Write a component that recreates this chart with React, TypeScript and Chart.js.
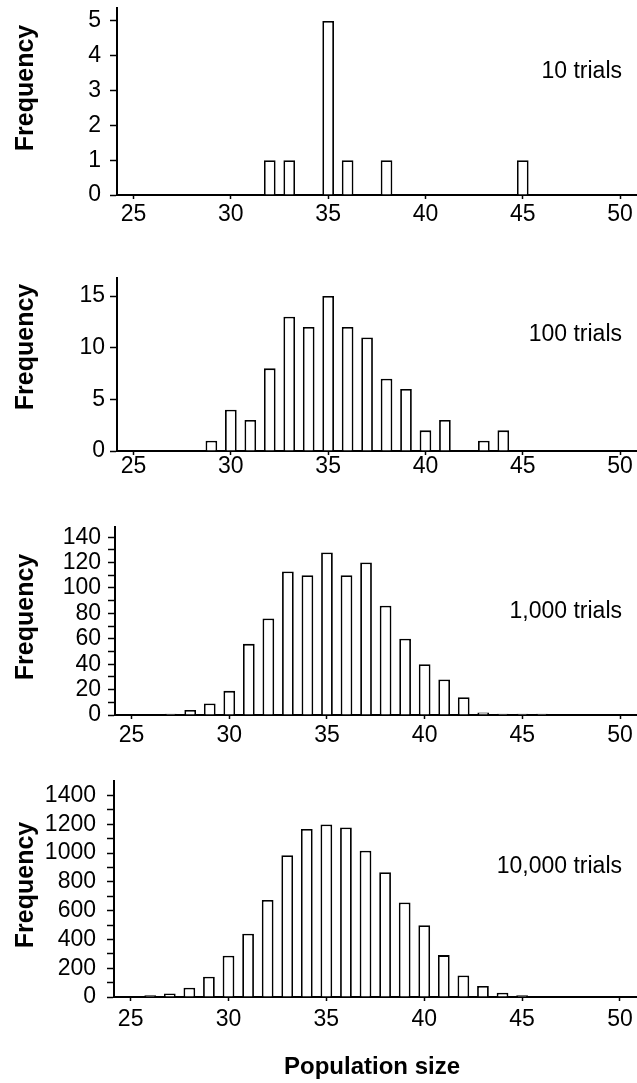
import React, { useEffect, useRef } from 'react';
import { Chart, registerables } from 'chart.js';

Chart.register(...registerables);

// ---- data ----
const sizes10 = [32, 33, 35, 36, 38, 45];
const freq10 = [1, 1, 5, 1, 1, 1];

const sizes100 = [29, 30, 31, 32, 33, 34, 35, 36, 37, 38, 39, 40, 41, 43, 44];
const freq100 = [1, 4, 3, 8, 13, 12, 15, 12, 11, 7, 6, 2, 3, 1, 2];

const sizes1000 = [27, 28, 29, 30, 31, 32, 33, 34, 35, 36, 37, 38, 39, 40, 41, 42, 43, 44, 45, 46];
const freq1000 = [1, 4, 9, 19, 56, 76, 113, 110, 128, 110, 120, 86, 60, 40, 28, 14, 2, 1, 1, 1];

const sizes10000 = [26, 27, 28, 29, 30, 31, 32, 33, 34, 35, 36, 37, 38, 39, 40, 41, 42, 43, 44, 45, 46, 47];
const freq10000 = [12, 25, 65, 141, 287, 440, 674, 984, 1167, 1198, 1177, 1016, 867, 656, 498, 291, 149, 77, 30, 12, 5, 2];

const xTickValues = [25, 30, 35, 40, 45, 50];

const yTicks10 = [0, 1, 2, 3, 4, 5];
const yLabels10 = [0, 1, 2, 3, 4, 5];
const yTicks100 = [0, 5, 10, 15];
const yLabels100 = [0, 5, 10, 15];
const yTicks1000 = [0, 10, 20, 30, 40, 50, 60, 70, 80, 90, 100, 110, 120, 130, 140];
const yLabels1000 = [0, 20, 40, 60, 80, 100, 120, 140];
const yTicks10000 = [0, 100, 200, 300, 400, 500, 600, 700, 800, 900, 1000, 1100, 1200, 1300, 1400];
const yLabels10000 = [0, 200, 400, 600, 800, 1000, 1200, 1400];

const trialLabels = ['10 trials', '100 trials', '1,000 trials', '10,000 trials'];
const yTitle = 'Frequency';
const xTitle = 'Population size';

// ---- layout (absolute page pixels) ----
const X_MIN = 24.15;
const X_MAX = 50.87;
const FONT = '"Liberation Sans", Arial, Helvetica, sans-serif';

const panels = [
  { sizes: sizes10, freq: freq10, yTicks: yTicks10, yLabels: yLabels10, yMax: 5.37, trials: trialLabels[0],
    top: 0, height: 235, axisX: 117, padTop: 8, xAxisH: 40, yPad: 9, xPad: 4, freqY: 88, trialY: 72, showX: false },
  { sizes: sizes100, freq: freq100, yTicks: yTicks100, yLabels: yLabels100, yMax: 16.75, trials: trialLabels[1],
    top: 250, height: 241, axisX: 117, padTop: 28, xAxisH: 40, yPad: 5, xPad: 0, freqY: 347, trialY: 335, showX: false },
  { sizes: sizes1000, freq: freq1000, yTicks: yTicks1000, yLabels: yLabels1000, yMax: 148, trials: trialLabels[2],
    top: 500, height: 255, axisX: 115, padTop: 27, xAxisH: 40, yPad: 7, xPad: 5, freqY: 617, trialY: 612, showX: false },
  { sizes: sizes10000, freq: freq10000, yTicks: yTicks10000, yLabels: yLabels10000, yMax: 1500, trials: trialLabels[3],
    top: 760, height: 323, axisX: 114, padTop: 21, xAxisH: 86, yPad: 11, xPad: 7, freqY: 885, trialY: 867, showX: true },
];

function Panel({ p }: { p: any }) {
  const ref = useRef<HTMLCanvasElement | null>(null);

  useEffect(() => {
    const canvas = ref.current;
    if (!canvas) return;
    const textPlugin = {
      id: 'panelText' + p.top,
      afterDraw(chart: any) {
        const ctx = chart.ctx;
        ctx.save();
        ctx.fillStyle = '#000';
        // y title
        ctx.save();
        ctx.font = `bold 25px ${FONT}`;
        ctx.translate(26, p.freqY - p.top);
        ctx.rotate(-Math.PI / 2);
        ctx.textAlign = 'center';
        ctx.textBaseline = 'middle';
        ctx.fillText(yTitle, 0, 0);
        ctx.restore();
        // trials annotation
        ctx.font = `23px ${FONT}`;
        ctx.textAlign = 'right';
        ctx.textBaseline = 'middle';
        ctx.fillText(p.trials, 622, p.trialY - p.top);
        // x title
        if (p.showX) {
          ctx.font = `bold 24px ${FONT}`;
          ctx.textAlign = 'center';
          ctx.fillText(xTitle, 372, 1067 - p.top);
        }
        ctx.restore();
      },
    };

    const chart = new Chart(canvas, {
      type: 'bar',
      data: {
        datasets: [
          {
            data: p.sizes.map((s: number, i: number) => ({ x: s, y: p.freq[i] })),
            backgroundColor: '#ffffff',
            borderColor: '#000000',
            borderWidth: 1.8,
            borderSkipped: 'start',
            barPercentage: 0.6,
            categoryPercentage: 1,
          },
        ],
      },
      options: {
        responsive: false,
        animation: false,
        devicePixelRatio: 1,
        layout: { padding: { top: p.padTop, left: 0, right: 0, bottom: 0 } },
        plugins: { legend: { display: false }, tooltip: { enabled: false } },
        scales: {
          x: {
            type: 'linear',
            min: X_MIN,
            max: X_MAX,
            bounds: 'data',
            offset: false,
            grid: {
              display: true,
              offset: false,
              drawOnChartArea: false,
              drawTicks: true,
              tickLength: 4,
              color: '#000',
              tickColor: '#000',
              tickWidth: 1.5,
            },
            border: { display: true, color: '#000', width: 2 },
            ticks: {
              color: '#000',
              font: { family: FONT, size: 23, lineHeight: 1 },
              padding: p.xPad,
              autoSkip: false,
              maxRotation: 0,
              minRotation: 0,
              callback: (v: any) => String(v),
            },
            afterBuildTicks: (scale: any) => {
              scale.ticks = xTickValues.map((v) => ({ value: v }));
            },
            afterFit: (scale: any) => {
              scale.height = p.xAxisH;
              scale.paddingLeft = 0;
              scale.paddingRight = 0;
            },
          },
          y: {
            type: 'linear',
            min: 0,
            max: p.yMax,
            bounds: 'data',
            grid: {
              display: true,
              drawOnChartArea: false,
              drawTicks: true,
              tickLength: 7,
              color: '#000',
              tickColor: '#000',
              tickWidth: 1.5,
            },
            border: { display: true, color: '#000', width: 2 },
            ticks: {
              color: '#000',
              font: { family: FONT, size: 23, lineHeight: 1 },
              padding: p.yPad,
              autoSkip: false,
              callback: (v: any) => (p.yLabels.includes(v) ? String(v) : ''),
            },
            afterBuildTicks: (scale: any) => {
              scale.ticks = p.yTicks.map((v: number) => ({ value: v }));
            },
            afterFit: (scale: any) => {
              scale.width = p.axisX;
              scale.paddingTop = 0;
              scale.paddingBottom = 0;
            },
          },
        },
      },
      plugins: [textPlugin],
    } as any);

    return () => chart.destroy();
  }, [p]);

  return (
    <canvas
      ref={ref}
      width={637}
      height={p.height}
      style={{ position: 'absolute', left: 0, top: p.top, width: 637, height: p.height }}
    />
  );
}

export default function App() {
  return (
    <div style={{ position: 'fixed', left: 0, top: 0, width: 637, height: 1083, background: '#fff', overflow: 'hidden' }}>
      {panels.map((p, i) => (
        <Panel key={i} p={p} />
      ))}
    </div>
  );
}
